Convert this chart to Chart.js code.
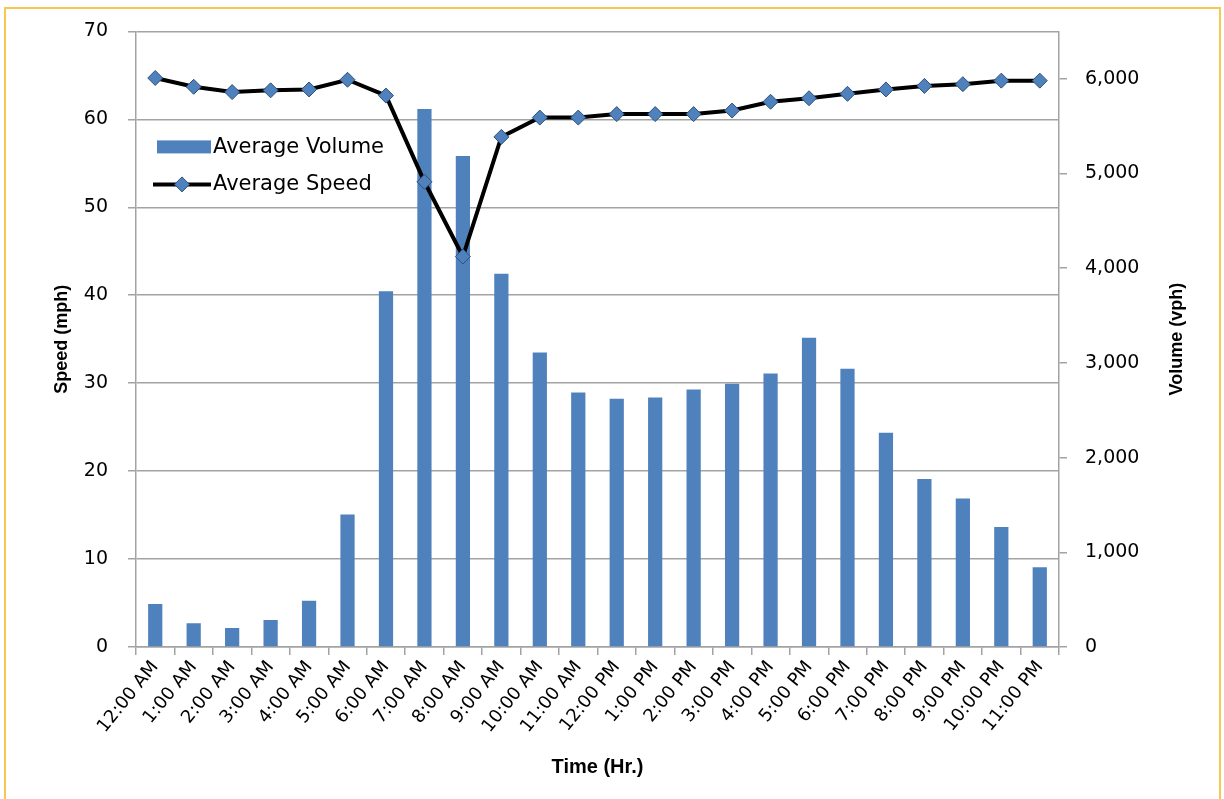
<!DOCTYPE html>
<html>
<head>
<meta charset="utf-8">
<title>Average Speed and Volume by Hour</title>
<script src="https://cdn.jsdelivr.net/npm/chart.js@4.4.1/dist/chart.umd.min.js"></script>
<style>
    body { margin: 0; background: #fff; }
    .chart-box { position: relative; width: 1224px; height: 799px; }
    .frame { position: absolute; left: 4px; top: 7px; width: 1217px; height: 830px; box-sizing: border-box; border: 2px solid #f7c84f; pointer-events: none; }
</style>
</head>
<body>
<div class="chart-box">
    <canvas id="speedVolumeChart"></canvas>
    <div class="frame"></div>
</div>
<script>
// Hours of the day (x axis)
const hours = ['12:00 AM', '1:00 AM', '2:00 AM', '3:00 AM', '4:00 AM', '5:00 AM', '6:00 AM', '7:00 AM',
    '8:00 AM', '9:00 AM', '10:00 AM', '11:00 AM', '12:00 PM', '1:00 PM', '2:00 PM', '3:00 PM',
    '4:00 PM', '5:00 PM', '6:00 PM', '7:00 PM', '8:00 PM', '9:00 PM', '10:00 PM', '11:00 PM'];

// Average volume (vph), right axis
const avgVolume = [454, 250, 200, 285, 489, 1400, 3756, 5680, 5185, 3940, 3110, 2688,
    2620, 2635, 2719, 2779, 2888, 3264, 2937, 2262, 1773, 1569, 1266, 841];

// Average speed (mph), left axis
const avgSpeed = [64.7, 63.7, 63.1, 63.3, 63.4, 64.5, 62.7, 52.9, 44.4, 58.0, 60.2, 60.2,
    60.6, 60.6, 60.6, 61.0, 62.0, 62.4, 62.9, 63.4, 63.8, 64.0, 64.4, 64.4];

// Axis ranges and ticks
const speedMax = 70;
const speedStep = 10;
const volumeMax = 6500;
const volumeTicks = [0, 1000, 2000, 3000, 4000, 5000, 6000];

const barColor = '#4f81bd';
const markerBorder = '#2f4f77';
const gridColor = '#a3a3a3';
const textColor = '#000';

Chart.defaults.font.family = "'DejaVu Sans', Verdana, sans-serif";
Chart.defaults.font.size = 18;
Chart.defaults.color = textColor;

// Legend inside the plot and the right axis title (reads bottom to top)
const extrasPlugin = {
    id: 'extras',
    afterDraw(chart) {
        const ctx = chart.ctx;
        const area = chart.chartArea;
        ctx.save();
        ctx.font = "21px 'DejaVu Sans', Verdana, sans-serif";
        ctx.textBaseline = 'middle';
        ctx.textAlign = 'left';

        // Average Volume
        ctx.fillStyle = barColor;
        ctx.fillRect(area.left + 21, area.top + 109, 54, 13);
        ctx.fillStyle = textColor;
        ctx.fillText(chart.data.datasets[0].label, area.left + 77, area.top + 116);

        // Average Speed
        const ly = area.top + 153;
        ctx.strokeStyle = '#000';
        ctx.lineWidth = 4;
        ctx.beginPath();
        ctx.moveTo(area.left + 17, ly);
        ctx.lineTo(area.left + 75, ly);
        ctx.stroke();
        const cx = area.left + 46;
        ctx.beginPath();
        ctx.moveTo(cx, ly - 7.5);
        ctx.lineTo(cx + 7.5, ly);
        ctx.lineTo(cx, ly + 7.5);
        ctx.lineTo(cx - 7.5, ly);
        ctx.closePath();
        ctx.fillStyle = barColor;
        ctx.fill();
        ctx.lineWidth = 1;
        ctx.strokeStyle = markerBorder;
        ctx.stroke();
        ctx.fillStyle = textColor;
        ctx.fillText(chart.data.datasets[1].label, area.left + 77, ly);

        // Volume (vph)
        ctx.translate(1177, (area.top + area.bottom) / 2);
        ctx.rotate(-Math.PI / 2);
        ctx.textAlign = 'center';
        ctx.font = "bold 18px 'Liberation Sans', Arial, sans-serif";
        ctx.fillText('Volume (vph)', 0, 0);
        ctx.restore();
    }
};

const speedVolumeChart = new Chart(document.getElementById('speedVolumeChart').getContext('2d'), {
    type: 'bar',
    data: {
        labels: hours,
        datasets: [{
            type: 'bar',
            label: 'Average Volume',
            data: avgVolume,
            yAxisID: 'y1',
            backgroundColor: barColor,
            borderWidth: 0,
            barPercentage: 0.37,
            categoryPercentage: 1,
            order: 1
        }, {
            type: 'line',
            label: 'Average Speed',
            data: avgSpeed,
            yAxisID: 'y',
            borderColor: '#000',
            borderWidth: 4,
            tension: 0,
            pointStyle: 'rectRot',
            pointRadius: 7.5,
            pointBackgroundColor: barColor,
            pointBorderColor: markerBorder,
            pointBorderWidth: 1,
            order: 0
        }]
    },
    options: {
        responsive: true,
        maintainAspectRatio: false,
        animation: false,
        layout: { padding: { top: 31, left: 0, right: 0, bottom: 0 } },
        plugins: {
            legend: { display: false },
            tooltip: { enabled: false }
        },
        scales: {
            x: {
                offset: true,
                grid: { display: true, drawOnChartArea: false, drawTicks: true, tickLength: 8, color: gridColor, lineWidth: 1.5, offset: true },
                border: { display: true, color: gridColor, width: 1.5 },
                ticks: { autoSkip: false, minRotation: 51, maxRotation: 51, padding: 2, font: { size: 18 } },
                title: { display: true, text: 'Time (Hr.)', font: { family: "'Liberation Sans', Arial, sans-serif", size: 20, weight: 'bold' }, padding: { top: 0, bottom: 20 } },
                afterFit: (scale) => { scale.height = 152; }
            },
            y: {
                position: 'left',
                min: 0,
                max: speedMax,
                ticks: { stepSize: speedStep, padding: 20, font: { size: 19 } },
                grid: { color: gridColor, lineWidth: 1.5, tickLength: 8 },
                border: { display: true, color: gridColor, width: 1.5 },
                title: { display: true, text: 'Speed (mph)', font: { family: "'Liberation Sans', Arial, sans-serif", size: 18, weight: 'bold' }, padding: { top: 51, bottom: 0 } },
                afterFit: (scale) => { scale.width = 136; }
            },
            y1: {
                position: 'right',
                min: 0,
                max: volumeMax,
                afterBuildTicks: (scale) => { scale.ticks = volumeTicks.map(v => ({ value: v })); },
                ticks: {
                    padding: 18,
                    font: { size: 19 },
                    callback: (value) => value.toLocaleString('en-US')
                },
                grid: { drawOnChartArea: false, color: gridColor, lineWidth: 1.5, tickLength: 8 },
                border: { display: true, color: gridColor, width: 1.5 },
                afterFit: (scale) => { scale.width = 165; }
            }
        }
    },
    plugins: [extrasPlugin]
});
</script>
</body>
</html>
